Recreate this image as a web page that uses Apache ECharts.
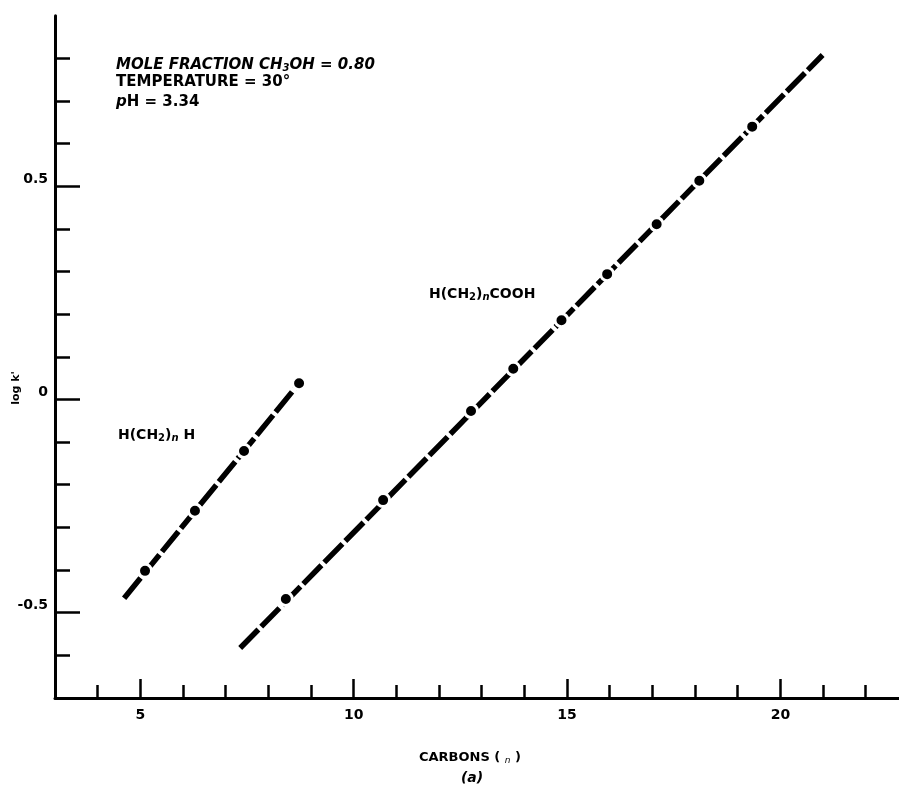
<!DOCTYPE html>
<html><head><meta charset="utf-8">
<script src="https://cdn.jsdelivr.net/npm/echarts@6/dist/echarts.min.js"></script>
<style>html,body{margin:0;padding:0;background:#fff}#c{width:899px;height:789px}</style>
</head><body><div id="c"></div>
<script>
// Axis ticks and labels
const xMinorTicks = [4,5,6,7,8,9,10,11,12,13,14,15,16,17,18,19,20,21,22];
const xMajorTicks = [5,10,15,20];
const yMinorTicks = [-0.6,-0.5,-0.4,-0.3,-0.2,-0.1,0,0.1,0.2,0.3,0.4,0.5,0.6,0.7,0.8];
const yMajorTicks = [-0.5,0,0.5];

// H(CH2)nH measured points and fitted line ends
const alkaneCarbons = [5.11, 6.28, 7.43, 8.72];
const alkaneLogK    = [-0.402, -0.261, -0.121, 0.038];
const alkaneFitX    = [4.62, 8.72];
const alkaneFitY    = [-0.466, 0.038];

// H(CH2)nCOOH measured points and fitted line ends
const acidCarbons = [8.41, 10.69, 12.75, 13.74, 14.87, 15.94, 17.10, 18.10, 19.34];
const acidLogK    = [-0.468, -0.236, -0.027, 0.072, 0.186, 0.294, 0.411, 0.513, 0.640];
const acidFitX    = [7.34, 20.99];
const acidFitY    = [-0.583, 0.808];

const FONT = 'DejaVu Sans';
const zip = (a, b) => a.map((v, i) => [v, b[i]]);

const chart = echarts.init(document.getElementById('c'), null, {renderer: 'canvas'});

const lineStyleFit = {color: '#000', width: 5.5, type: [26, 4], cap: 'butt'};
const dotStyle = {color: '#000', borderColor: '#fff', borderWidth: 3, opacity: 1};

const txt = (x, y, rich, text, extra) => Object.assign({
  type: 'text', x: x, y: y, z: 100,
  style: Object.assign({
    text: text, rich: rich, fill: '#000',
    fontFamily: FONT, fontWeight: 'bold', fontSize: 15,
    textAlign: 'left', textVerticalAlign: 'middle', align: 'left', verticalAlign: 'middle'
  }, extra || {})
});

const baseRich = {
  t: {fontFamily: FONT, fontWeight: 'bold', fontSize: 15, lineHeight: 16, color: '#000'},
  ti: {fontFamily: FONT, fontWeight: 'bold', fontStyle: 'italic', fontSize: 15, lineHeight: 16, color: '#000'},
  sub: {fontFamily: FONT, fontWeight: 'bold', fontSize: 10, lineHeight: 8, verticalAlign: 'bottom', color: '#000'},
  subi: {fontFamily: FONT, fontWeight: 'bold', fontStyle: 'italic', fontSize: 10, lineHeight: 8, verticalAlign: 'bottom', color: '#000'}
};
const seriesRich = {
  t: {fontFamily: FONT, fontWeight: 'bold', fontSize: 14, lineHeight: 16, color: '#000'},
  sub: {fontFamily: FONT, fontWeight: 'bold', fontSize: 10, lineHeight: 8, verticalAlign: 'bottom', color: '#000'},
  n: {fontFamily: FONT, fontWeight: 'bold', fontStyle: 'italic', fontSize: 10, lineHeight: 10, verticalAlign: 'bottom', color: '#000'}
};

const option = {
  backgroundColor: '#fff',
  animation: false,
  grid: {left: 55, right: 0, top: 15.8, bottom: 91.1, containLabel: false},
  xAxis: [{
    type: 'value', min: 3, max: 22.78, position: 'bottom',
    axisLine: {show: true, onZero: false, lineStyle: {color: '#000', width: 3}},
    axisTick: {show: true, inside: true, length: 13, customValues: xMinorTicks, lineStyle: {color: '#000', width: 2.5}},
    axisLabel: {show: false},
    splitLine: {show: false}
  }, {
    type: 'value', min: 3, max: 22.78, position: 'bottom',
    axisLine: {show: false, onZero: false},
    axisTick: {show: true, inside: true, length: 19, customValues: xMajorTicks, lineStyle: {color: '#000', width: 2.5}},
    axisLabel: {show: true, customValues: xMajorTicks, margin: 10, color: '#000', fontFamily: FONT, fontWeight: 'bold', fontSize: 14},
    splitLine: {show: false}
  }],
  yAxis: [{
    type: 'value', min: -0.7, max: 0.9, position: 'left',
    axisLine: {show: true, onZero: false, lineStyle: {color: '#000', width: 3}},
    axisTick: {show: true, inside: true, length: 15, customValues: yMinorTicks, lineStyle: {color: '#000', width: 2.5}},
    axisLabel: {show: false},
    splitLine: {show: false}
  }, {
    type: 'value', min: -0.7, max: 0.9, position: 'left',
    axisLine: {show: false, onZero: false},
    axisTick: {show: true, inside: true, length: 25, customValues: yMajorTicks, lineStyle: {color: '#000', width: 2.5}},
    axisLabel: {show: true, customValues: yMajorTicks, margin: 7, verticalAlign: 'bottom', lineHeight: 14,
      color: '#000', fontFamily: FONT, fontWeight: 'bold', fontSize: 14,
      formatter: v => (v === 0 ? '0' : (Math.round(v * 10) / 10).toString())},
    splitLine: {show: false}
  }],
  series: [
    {type: 'line', name: 'alkane fit', xAxisIndex: 0, yAxisIndex: 0, data: zip(alkaneFitX, alkaneFitY),
      showSymbol: false, symbol: 'none', lineStyle: lineStyleFit, z: 2, silent: true},
    {type: 'line', name: 'acid fit', xAxisIndex: 0, yAxisIndex: 0, data: zip(acidFitX, acidFitY),
      showSymbol: false, symbol: 'none', lineStyle: lineStyleFit, z: 2, silent: true},
    {type: 'scatter', name: 'H(CH2)nH', xAxisIndex: 0, yAxisIndex: 0, data: zip(alkaneCarbons, alkaneLogK),
      symbol: 'circle', symbolSize: 13, itemStyle: dotStyle, z: 3, silent: true},
    {type: 'scatter', name: 'H(CH2)nCOOH', xAxisIndex: 0, yAxisIndex: 0, data: zip(acidCarbons, acidLogK),
      symbol: 'circle', symbolSize: 13, itemStyle: dotStyle, z: 3, silent: true}
  ],
  graphic: [
    txt(116, 65, baseRich, '{ti|MOLE FRACTION CH}{subi|3}{ti|OH = 0.80}'),
    txt(116, 82, baseRich, '{t|TEMPERATURE = 30°}'),
    txt(116, 102, baseRich, '{ti|p}{t|H = 3.34}'),
    txt(118, 435, seriesRich, '{t|H(CH}{sub|2}{t|)}{n|n}{t| H}'),
    txt(429, 294, seriesRich, '{t|H(CH}{sub|2}{t|)}{n|n}{t|COOH}'),
    {type: 'text', x: 16, y: 388, rotation: Math.PI / 2, z: 100,
      style: {text: "log k'", fill: '#000', fontFamily: FONT, fontWeight: 'bold', fontSize: 11,
        textAlign: 'center', textVerticalAlign: 'middle', align: 'center', verticalAlign: 'middle'}},
    {type: 'text', x: 470, y: 758, z: 100,
      style: {text: '{t|CARBONS ( }{n|n}{t| )}', fill: '#000',
        rich: {t: {fontFamily: FONT, fontWeight: 'bold', fontSize: 13, lineHeight: 14, color: '#000'},
               n: {fontFamily: FONT, fontStyle: 'italic', fontSize: 9, lineHeight: 12, verticalAlign: 'bottom', color: '#000'}},
        textAlign: 'center', textVerticalAlign: 'middle', align: 'center', verticalAlign: 'middle'}},
    {type: 'text', x: 472, y: 778, z: 100,
      style: {text: '(a)', fill: '#000', fontFamily: FONT, fontWeight: 'bold', fontStyle: 'italic', fontSize: 14,
        textAlign: 'center', textVerticalAlign: 'middle', align: 'center', verticalAlign: 'middle'}}
  ]
};
chart.setOption(option);
</script>
</body></html>
